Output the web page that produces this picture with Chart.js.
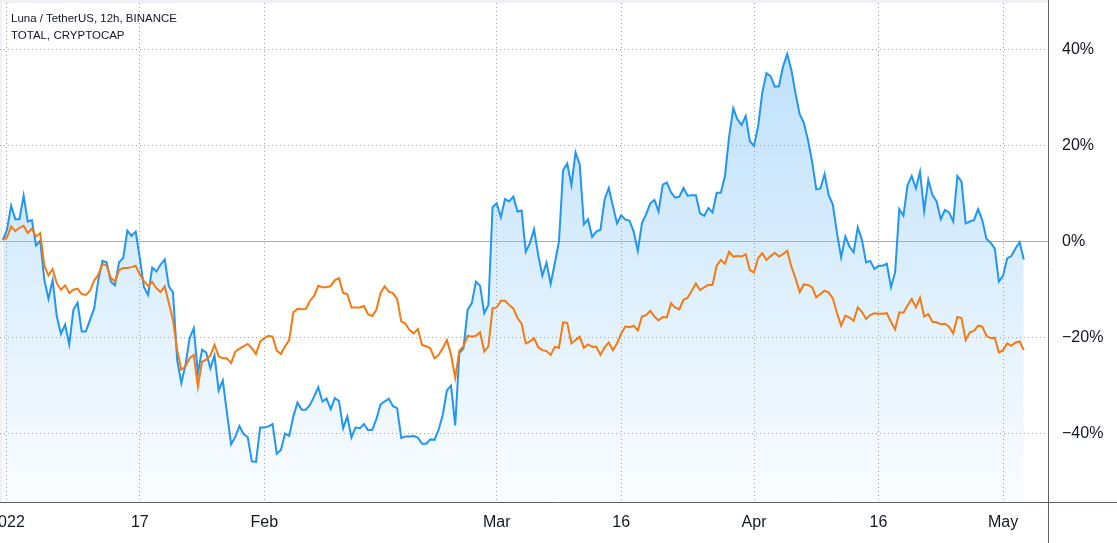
<!DOCTYPE html>
<html>
<head>
<meta charset="utf-8">
<script src="https://cdn.jsdelivr.net/npm/chart.js@4.4.1/dist/chart.umd.min.js"></script>
<style>
  html, body { margin: 0; padding: 0; background: #fff; }
  #wrap { position: relative; width: 1117px; height: 543px; }
  #legend {
    position: absolute; left: 11px; top: 10px;
    font: 11.5px "Liberation Sans", Arial, sans-serif;
    color: #131722; line-height: 17px;
  }
</style>
</head>
<body>
<div id="wrap">
  <canvas id="chart" width="1117" height="543"></canvas>
  <div id="legend">
    <div>Luna / TetherUS, 12h, BINANCE</div>
    <div>TOTAL, CRYPTOCAP</div>
  </div>
</div>
<script>
// 12h bars, first bar = Dec 31 12:00 (day -0.5 from Jan 1)
const firstDay = -0.5;
const barDays = 0.5;

// Luna / TetherUS, % change
const luna = [
  0.3, 2.4, 7.4, 4.6, 4.6, 9.5, 4.1, 4.4, -0.9, 0.1,
  -8.1, -12.0, -8.1, -15.7, -19.3, -17.4, -21.5, -14.3, -12.8, -18.8,
  -18.8, -16.4, -14.0, -8.1, -4.1, -4.4, -8.4, -9.2, -4.4, -3.5,
  2.2, 1.1, 2.0, -3.5, -9.6, -11.2, -5.5, -6.3, -4.9, -3.8,
  -9.4, -10.7, -24.7, -29.6, -25.8, -20.2, -18.1, -27.5, -22.6, -23.2,
  -26.5, -23.8, -31.1, -29.0, -35.8, -42.3, -40.8, -38.5, -40.2, -40.8,
  -45.9, -46.0, -38.8, -38.8, -38.6, -38.1, -44.3, -43.5, -40.1, -40.6,
  -36.5, -33.6, -35.1, -35.1, -34.1, -32.4, -30.4, -33.4, -32.8, -35.0,
  -32.7, -33.3, -39.0, -36.5, -40.9, -38.8, -39.0, -38.1, -39.4, -39.3,
  -37.1, -34.0, -33.4, -32.8, -34.4, -34.8, -41.0, -40.7, -40.7, -40.6,
  -40.9, -42.2, -42.2, -41.3, -41.4, -39.3, -36.2, -31.1, -30.1, -38.4,
  -23.3, -22.3, -14.3, -12.9, -8.4, -9.3, -15.0, -13.3, 7.1, 7.9,
  5.0, 8.8, 8.3, 9.3, 6.2, 6.4, -2.2, -0.4, 2.5, -2.9,
  -7.2, -4.5, -8.9, -4.6, -0.1, 14.8, 16.2, 11.7, 18.5, 16.0,
  3.5, 4.6, 0.9, 2.0, 2.4, 8.7, 11.1, 7.3, 3.7, 5.4,
  4.5, 4.3, 2.0, -2.0, 3.8, 5.6, 7.9, 8.6, 6.2, 11.8,
  12.2, 10.2, 9.1, 9.3, 11.1, 9.5, 9.6, 9.6, 5.8, 5.3,
  6.9, 6.0, 10.1, 10.1, 13.6, 21.8, 27.7, 25.4, 24.2, 26.1,
  20.8, 19.9, 24.0, 31.0, 35.0, 34.4, 32.2, 32.3, 36.4, 39.0,
  35.7, 30.8, 26.5, 24.7, 21.1, 16.6, 10.8, 11.0, 14.0, 9.6,
  7.6, 1.7, -3.4, 1.0, -1.1, -2.3, 2.9, 0.3, -4.4, -4.1,
  -5.8, -5.1, -5.1, -4.7, -9.6, -6.5, 6.7, 5.3, 11.7, 13.6,
  11.0, 14.5, 6.3, 12.8, 9.6, 8.3, 4.6, 6.5, 6.0, 4.1,
  13.6, 12.4, 3.7, 4.1, 4.4, 6.7, 4.4, 0.5, -0.3, -1.5,
  -8.4, -7.2, -3.6, -3.1, -1.5, -0.2, -3.8
];

// TOTAL, CRYPTOCAP, % change
const total = [
  0.3, 0.8, 3.1, 2.1, 2.8, 3.2, 1.7, 2.6, 1.0, 1.7,
  -5.1, -7.1, -5.8, -8.8, -10.1, -9.2, -10.8, -10.1, -9.9, -11.0,
  -11.2, -10.3, -8.2, -7.0, -4.7, -5.1, -7.6, -8.4, -6.0, -5.6,
  -5.6, -5.4, -5.1, -6.9, -8.3, -9.3, -8.5, -9.8, -10.6, -9.4,
  -12.9, -16.4, -22.6, -26.8, -26.1, -24.4, -23.7, -30.3, -25.1, -24.7,
  -23.8, -21.6, -24.0, -24.4, -24.4, -25.4, -23.0, -22.4, -21.9, -21.4,
  -22.3, -23.5, -20.9, -20.2, -19.7, -19.9, -22.8, -23.5, -21.9, -20.6,
  -14.8, -14.1, -14.2, -14.1, -12.4, -11.4, -9.3, -9.6, -9.6, -9.3,
  -8.1, -7.7, -10.8, -11.0, -13.8, -13.8, -13.8, -13.5, -15.2, -15.6,
  -14.3, -10.8, -9.4, -10.5, -10.8, -12.0, -16.7, -17.2, -18.5, -19.2,
  -18.3, -21.6, -21.9, -22.3, -24.4, -23.7, -22.3, -20.6, -23.7, -28.5,
  -22.8, -21.9, -19.7, -19.9, -19.7, -19.0, -23.0, -21.9, -14.0, -13.8,
  -12.4, -12.4, -13.3, -14.0, -16.0, -17.2, -21.3, -20.9, -20.2, -22.1,
  -22.7, -22.9, -23.7, -22.0, -22.2, -16.9, -17.0, -21.3, -20.6, -19.9,
  -22.2, -21.5, -22.0, -22.0, -23.7, -22.1, -21.1, -22.7, -21.3, -19.2,
  -17.8, -17.9, -17.6, -18.6, -15.7, -15.4, -14.5, -15.7, -16.5, -15.8,
  -15.9, -12.9, -13.8, -14.2, -12.2, -11.8, -10.3, -8.8, -10.2, -9.6,
  -9.1, -9.1, -5.1, -3.9, -4.7, -2.2, -3.2, -3.1, -3.2, -2.7,
  -6.0, -6.5, -3.5, -2.5, -3.9, -3.1, -2.4, -3.2, -2.7, -2.0,
  -5.3, -7.7, -10.6, -9.0, -9.1, -9.6, -11.7, -11.0, -10.3, -10.7,
  -11.9, -15.0, -17.6, -15.5, -15.9, -16.6, -13.8, -14.7, -16.2, -15.4,
  -15.0, -15.1, -15.1, -15.0, -16.8, -18.4, -14.8, -14.9, -13.4, -12.0,
  -13.8, -11.8, -15.7, -15.2, -16.8, -16.9, -17.3, -17.2, -17.8, -19.2,
  -15.8, -16.0, -20.6, -19.0, -18.7, -17.6, -17.8, -19.7, -20.2, -20.1,
  -23.2, -22.7, -21.3, -21.8, -21.1, -20.9, -22.7
];

// x ticks, in days since Jan 1 2022
const tickDays = [0, 16, 31, 59, 74, 90, 105, 120];
const tickLabels = ["2022", "17", "Feb", "Mar", "16", "Apr", "16", "May"];
const yTicks = [-40, -20, 0, 20, 40];

const days = luna.map((_, i) => firstDay + i * barDays);
const toPoints = arr => arr.map((v, i) => ({ x: days[i], y: v }));

const axisFont = { family: "Liberation Sans", size: 16 };

// zero line, frame and custom x labels
const framePlugin = {
  id: "frame",
  beforeDraw(chart) {
    const c = chart.ctx;
    const a = chart.chartArea;
    c.save();
    c.fillStyle = "#eef0f4";
    c.fillRect(0, 0, a.right, 3);
    c.fillRect(0, 3, 2, a.bottom - 3);
    c.restore();
  },
  beforeDatasetsDraw(chart) {
    const c = chart.ctx;
    const a = chart.chartArea;
    const y = Math.round(chart.scales.y.getPixelForValue(0)) + 0.5;
    c.save();
    c.strokeStyle = "#a9acb4";
    c.lineWidth = 1;
    c.beginPath();
    c.moveTo(a.left, y);
    c.lineTo(a.right, y);
    c.stroke();
    c.restore();
  },
  afterDraw(chart) {
    const c = chart.ctx;
    const a = chart.chartArea;
    const xs = chart.scales.x;
    c.save();
    c.strokeStyle = "#5d606b";
    c.lineWidth = 1;
    c.beginPath();
    c.moveTo(0, a.bottom + 0.5);
    c.lineTo(chart.width, a.bottom + 0.5);
    c.moveTo(a.right + 0.5, 0);
    c.lineTo(a.right + 0.5, chart.height);
    c.stroke();
    c.fillStyle = "#131722";
    c.font = "16px 'Liberation Sans'";
    c.textAlign = "center";
    c.textBaseline = "middle";
    tickDays.forEach((d, i) => {
      c.fillText(tickLabels[i], xs.getPixelForValue(d), a.bottom + 21);
    });
    c.restore();
  }
};

const ctx = document.getElementById("chart").getContext("2d");
const chart = new Chart(ctx, {
  type: "line",
  data: {
    datasets: [
      {
        label: "TOTAL, CRYPTOCAP",
        data: toPoints(total),
        borderColor: "#f57a12",
        borderWidth: 2,
        pointRadius: 0,
        fill: false,
        tension: 0
      },
      {
        label: "Luna / TetherUS, 12h, BINANCE",
        data: toPoints(luna),
        borderColor: "#2196f3",
        borderWidth: 2,
        pointRadius: 0,
        fill: "start",
        tension: 0,
        backgroundColor: c => {
          const a = c.chart.chartArea;
          if (!a) return "rgba(33,150,243,0.15)";
          const g = c.chart.ctx.createLinearGradient(0, a.top, 0, a.bottom);
          g.addColorStop(0, "rgba(33,150,243,0.32)");
          g.addColorStop(1, "rgba(33,150,243,0.02)");
          return g;
        }
      }
    ]
  },
  options: {
    responsive: false,
    animation: false,
    layout: { padding: { top: 3, left: 0, right: 0, bottom: 0 } },
    plugins: {
      legend: { display: false },
      tooltip: { enabled: false },
      filler: { drawTime: "beforeDatasetsDraw" }
    },
    scales: {
      x: {
        type: "linear",
        min: -0.843,
        max: 125.42,
        afterBuildTicks: s => { s.ticks = tickDays.map(v => ({ value: v })); },
        afterFit: s => { s.height = 41; s.paddingLeft = 0; s.paddingRight = 0; },
        ticks: { display: false },
        grid: { color: "#a3a6af", drawTicks: false },
        border: { display: false, dash: [1, 3] }
      },
      y: {
        position: "right",
        min: -54.35,
        max: 49.65,
        afterBuildTicks: s => { s.ticks = yTicks.map(v => ({ value: v })); },
        afterFit: s => { s.width = 69; s.paddingTop = 0; s.paddingBottom = 0; },
        ticks: {
          padding: 14,
          color: "#131722",
          font: axisFont,
          callback: v => (v < 0 ? "\u2212" + (-v) : v) + "%"
        },
        grid: {
          color: c => (c.tick && c.tick.value === 0) ? "rgba(0,0,0,0)" : "#a3a6af",
          drawTicks: false
        },
        border: { display: false, dash: [1, 3] }
      }
    }
  },
  plugins: [framePlugin]
});
</script>
</body>
</html>
